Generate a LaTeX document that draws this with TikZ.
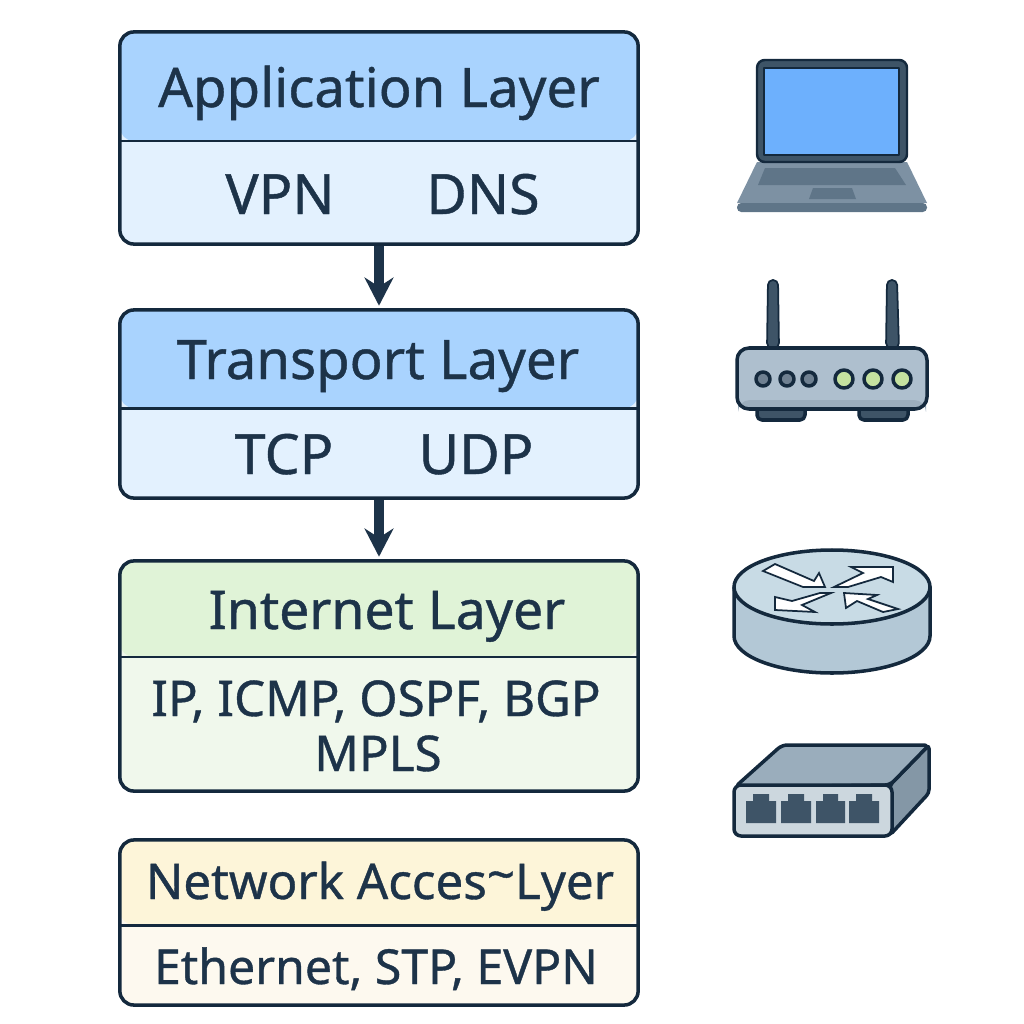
\documentclass[tikz,border=0pt]{standalone}
\usepackage{fontspec}
\setmainfont{Noto Sans}[RawFeature={embolden=0.8}]
\usetikzlibrary{arrows.meta, positioning, calc}

\definecolor{linedark}{HTML}{14293D}
\definecolor{textdark}{HTML}{1D3349}
\definecolor{blueHead}{HTML}{A9D3FE}
\definecolor{blueBody}{HTML}{E3F1FE}
\definecolor{greenHead}{HTML}{E0F3D7}
\definecolor{greenBody}{HTML}{F0F8EC}
\definecolor{yellowHead}{HTML}{FDF5D9}
\definecolor{yellowBody}{HTML}{FDF9EF}
\definecolor{slateDark}{HTML}{3E5467}
\definecolor{slateMid}{HTML}{5F7588}
\definecolor{slateLight}{HTML}{7D91A3}
\definecolor{screenBlue}{HTML}{6DB0FD}
\definecolor{caseLight}{HTML}{AEBFCE}
\definecolor{caseShade}{HTML}{9CAEBD}
\definecolor{ledGreen}{HTML}{C5E2A0}
\definecolor{ledGray}{HTML}{6F8091}
\definecolor{drumTop}{HTML}{C8DBE5}
\definecolor{drumSide}{HTML}{B3C8D6}
\definecolor{switchTop}{HTML}{9AADBC}
\definecolor{switchSide}{HTML}{8497A6}
\definecolor{switchFront}{HTML}{CCD7DE}

\tikzset{
    layerbox/.style n args={4}{draw=linedark, line width=1pt, rounded corners=4pt,
        minimum width=5.18cm, minimum height=#1, inner sep=0pt, fill=#4,
        path picture={
            \fill[#3] (path picture bounding box.north west) rectangle ([yshift=-#2]path picture bounding box.north east);
            \draw[linedark, line width=0.85pt] ([yshift=-#2]path picture bounding box.north west) -- ([yshift=-#2]path picture bounding box.north east);
        }},
    headtext/.style={text=textdark, anchor=base, font=\fontsize{15.5pt}{18pt}\selectfont},
    bodytext/.style={text=textdark, anchor=base, font=\fontsize{15.8pt}{18pt}\selectfont},
    listtext/.style={text=textdark, anchor=base, font=\fontsize{14pt}{18pt}\selectfont},
    flow/.style={draw=textdark, line width=2.6pt, shorten >=0.7pt, -{Stealth[length=8pt, width=8.2pt]}},
    icon/.style={draw=linedark, line width=1pt, line join=round},
    flatarrow/.style={draw=linedark, fill=white, line width=0.5pt, line join=miter},
}

\begin{document}
\begin{tikzpicture}[x=0.01cm, y=-0.01cm]
    \useasboundingbox (0,0) rectangle (1024,1024);

    % layer boxes
    \node[layerbox={2.12cm}{1.09cm}{blueHead}{blueBody}] (app) at (379,138) {};
    \node[layerbox={1.88cm}{0.98cm}{blueHead}{blueBody}] (trans) at (379,404) {};
    \node[layerbox={2.30cm}{0.96cm}{greenHead}{greenBody}] (inet) at (379,676) {};
    \node[layerbox={1.65cm}{0.85cm}{yellowHead}{yellowBody}] (netacc) at (379,922.5) {};

    % labels
    \node[headtext] (appT) at (379,107) {Application Layer};
    \node[bodytext] (vpnT) at (280,214) {VPN};
    \node[bodytext] (dnsT) at (483,214) {DNS};
    \node[headtext] (transT) at (378,379) {Transport Layer};
    \node[bodytext] (tcpT) at (284,474) {TCP};
    \node[bodytext] (udpT) at (476,474) {UDP};
    \node[headtext, font=\fontsize{15.2pt}{18pt}\selectfont] (inetT) at (387,629) {Internet Layer};
    \node[listtext] (ipT) at (376,716) {IP, ICMP, OSPF, BGP};
    \node[listtext] (mplsT) at (378,771) {MPLS};
    \node[listtext] (netT) at (380,899) {Network Acces\raisebox{2pt}{\char`\~}Lyer};
    \node[listtext, font=\fontsize{13.7pt}{18pt}\selectfont] (ethT) at (376,984) {Ethernet, STP, EVPN};

    % arrows
    \draw[flow] (app.south) -- (trans.north);
    \draw[flow] (trans.south) -- (inet.north);

    % laptop
    \fill[slateLight] (757,162) -- (907,162) -- (927,203) -- (737,203) -- cycle;
    \fill[slateMid, rounded corners=1.2pt] (737,203) -- (927,203) -- (927,212) -- (737,212) -- cycle;
    \fill[slateMid] (765,168) -- (895,168) -- (906,185) -- (758,185) -- cycle;
    \fill[slateMid] (813,188) -- (852,188) -- (856,199) -- (809,199) -- cycle;
    \draw[icon, fill=slateDark, line width=0.7pt, rounded corners=2.2pt] (757,60) rectangle (907,162);
    \draw[icon, fill=screenBlue, line width=0.6pt] (764,68) rectangle (899,155);

    % wifi router
    \fill[slateDark, draw=linedark, line width=0.5pt, rounded corners=1.4pt] (767,348) -- (768,280) -- (778,280) -- (779,348) -- cycle;
    \fill[slateDark, draw=linedark, line width=0.5pt, rounded corners=1.4pt] (886,348) -- (887,280) -- (897,280) -- (899,348) -- cycle;
    \draw[icon, fill=slateDark, rounded corners=1.4pt] (757,405) rectangle (805,420);
    \draw[icon, fill=slateDark, rounded corners=1.4pt] (859,405) rectangle (908,420);
    \fill[caseLight, rounded corners=3.4pt] (737,348) rectangle (927,409);
    \fill[caseShade, rounded corners=3.4pt] (738,400) -- (738,409) -- (926,409) -- (926,400) -- cycle;
    \draw[icon, rounded corners=3.4pt] (737,348) rectangle (927,409);
    \draw[icon, fill=ledGray] (763,379) circle (7);
    \draw[icon, fill=ledGray] (787,379) circle (7);
    \draw[icon, fill=ledGray] (809,379) circle (7);
    \draw[icon, fill=ledGreen] (844,379) circle (9);
    \draw[icon, fill=ledGreen] (873,379) circle (9);
    \draw[icon, fill=ledGreen] (902,379) circle (9);

    % router drum
    \draw[icon, fill=drumSide] (734,587) -- (734,636) arc (180:0:98 and 37) -- (930,587) -- cycle;
    \draw[icon, fill=drumTop] (832,587) ellipse (98 and 37);
    \draw[flatarrow] (763,571) -- (775,564) -- (814,581) -- (819,573) -- (825,587) -- (803,587) -- cycle;
    \draw[flatarrow] (834,587) -- (863,573) -- (851,567) -- (893,567) -- (893,582) -- (881,577) -- (848,587) -- cycle;
    \draw[flatarrow] (775,610) -- (775,597) -- (792,601) -- (820,593) -- (831,593) -- (802,605) -- (815,612) -- cycle;
    \draw[flatarrow] (844,593) -- (877,595) -- (868,599) -- (898,609) -- (883,612) -- (857,601) -- (846,608) -- cycle;

    % switch
    \draw[icon, fill=switchSide, rounded corners=1pt] (890,785) -- (929,745) -- (929,793) -- (890,835) -- cycle;
    \draw[icon, fill=switchTop, rounded corners=1.5pt] (735,787) -- (782,745) -- (929,745) -- (890,785) -- cycle;
    \draw[icon, fill=switchFront, rounded corners=2pt] (734,785) rectangle (892,836);
    \fill[slateDark] (746,823) -- (746,801) -- (753,801) -- (753,794) -- (769,794) -- (769,801) -- (776,801) -- (776,823) -- cycle;
    \fill[slateDark] (781,823) -- (781,801) -- (788,801) -- (788,794) -- (804,794) -- (804,801) -- (811,801) -- (811,823) -- cycle;
    \fill[slateDark] (816,823) -- (816,801) -- (823,801) -- (823,794) -- (838,794) -- (838,801) -- (845,801) -- (845,823) -- cycle;
    \fill[slateDark] (849,823) -- (849,801) -- (856,801) -- (856,794) -- (872,794) -- (872,801) -- (879,801) -- (879,823) -- cycle;
\end{tikzpicture}
\end{document}
